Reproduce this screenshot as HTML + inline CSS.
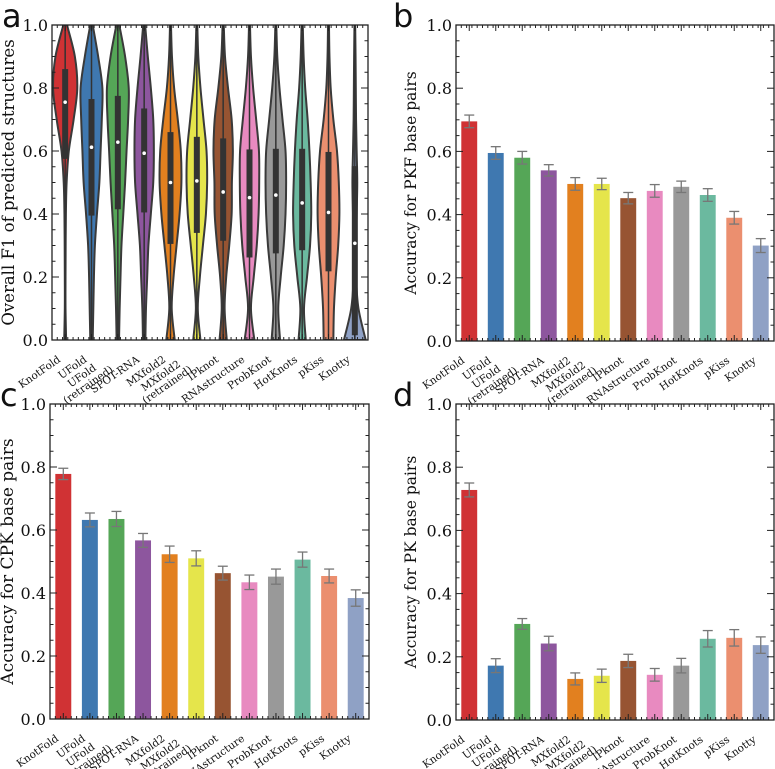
<!DOCTYPE html>
<html><head><meta charset="utf-8"><style>
body{margin:0;background:#fff;}
svg{display:block;}
text{font-family:"DejaVu Serif","Liberation Serif",serif;fill:#111;}
.plab{font-family:"DejaVu Sans","Liberation Sans",sans-serif;font-size:32px;}
</style></head><body>
<svg id="fig" width="775" height="769" viewBox="0 0 775 769"></svg>
<script>
const categories=["KnotFold","UFold","UFold\n(retrained)","SPOT-RNA","MXfold2","MXfold2\n(retrained)","IPknot","RNAstructure","ProbKnot","HotKnots","pKiss","Knotty"];
const colors=["#d03234","#3f78b0","#55a657","#8d569e","#e2801f","#e5e54b","#975432","#e88ac0","#999999","#6bb99f","#eb8f6f","#8fa1c5"];
const yTicks=["0.0","0.2","0.4","0.6","0.8","1.0"];
const pkfValues=[0.695,0.595,0.580,0.540,0.497,0.497,0.452,0.475,0.488,0.462,0.390,0.302];
const pkfErr=[0.020,0.020,0.020,0.018,0.020,0.018,0.018,0.020,0.018,0.020,0.020,0.022];
const cpkValues=[0.778,0.632,0.635,0.567,0.523,0.510,0.463,0.434,0.452,0.506,0.454,0.384];
const cpkErr=[0.018,0.022,0.024,0.022,0.026,0.024,0.022,0.023,0.024,0.024,0.022,0.026];
const pkValues=[0.728,0.172,0.304,0.242,0.130,0.140,0.187,0.143,0.172,0.257,0.260,0.237];
const pkErr=[0.022,0.022,0.017,0.023,0.019,0.021,0.021,0.020,0.023,0.026,0.026,0.026];
const f1Median=[0.755,0.612,0.628,0.593,0.500,0.505,0.470,0.452,0.460,0.435,0.405,0.307];
const f1Q1=[0.575,0.395,0.415,0.405,0.305,0.340,0.315,0.262,0.275,0.285,0.218,0.015];
const f1Q3=[0.860,0.765,0.775,0.735,0.660,0.645,0.640,0.605,0.607,0.607,0.597,0.552];
const f1DensityLevels=[0,0.1,0.2,0.3,0.4,0.5,0.6,0.7,0.8,0.9,1.0];
const f1Density=[
[0.08,0.03,0.03,0.04,0.06,0.12,0.30,0.70,1.00,0.80,0.15],
[0.10,0.15,0.20,0.28,0.45,0.65,0.75,0.85,0.90,0.55,0.10],
[0.10,0.15,0.22,0.30,0.45,0.60,0.72,0.85,0.90,0.60,0.12],
[0.10,0.15,0.25,0.35,0.55,0.75,0.80,0.75,0.55,0.30,0.08],
[0.35,0.10,0.25,0.50,0.75,0.90,0.85,0.60,0.30,0.12,0.04],
[0.30,0.08,0.25,0.50,0.75,0.85,0.80,0.55,0.30,0.12,0.04],
[0.30,0.12,0.25,0.50,0.70,0.72,0.80,0.70,0.40,0.15,0.05],
[0.40,0.12,0.35,0.60,0.75,0.80,0.78,0.55,0.30,0.12,0.04],
[0.35,0.20,0.40,0.65,0.80,0.85,0.80,0.55,0.30,0.12,0.04],
[0.30,0.15,0.40,0.65,0.75,0.70,0.60,0.45,0.25,0.12,0.05],
[0.40,0.45,0.60,0.80,0.90,0.85,0.70,0.40,0.18,0.08,0.04],
[0.90,0.30,0.10,0.10,0.15,0.20,0.15,0.10,0.08,0.06,0.03]];

const NS="http://www.w3.org/2000/svg";
const svg=document.getElementById('fig');
function mk(tag,attrs,parent){const e=document.createElementNS(NS,tag);for(const k in attrs)e.setAttribute(k,attrs[k]);(parent||svg).appendChild(e);return e;}

function panel(id,L,R,T,B,letter,ylabel,ylabSize,ylabX,letterX){
  const g=mk('g',{});
  
  
  const n=categories.length;
  const sx=i=>L+(i+0.5)*(R-L)/n;
  const sy=v=>B-v*(B-T);
  const slot=(R-L)/n;
  const clipId='clip'+id;
  const cp=mk('clipPath',{id:clipId},g);mk('rect',{x:L,y:T,width:R-L,height:B-T},cp);
  const plot=mk('g',{'clip-path':'url(#'+clipId+')'},g);
  const tk=mk('g',{stroke:'#222','stroke-width':1},g);
  
  
  for(let k=0;k<=20;k++){const y=sy(k*0.05);const len=k%4===0?7:3.5;
    mk('line',{x1:L,x2:L+len,y1:y,y2:y},tk);mk('line',{x1:R,x2:R-len,y1:y,y2:y},tk);}
  for(let k=0;k<=n*5;k++){const x=L+k*slot/5;
    mk('line',{x1:x,x2:x,y1:B,y2:B-3},tk);mk('line',{x1:x,x2:x,y1:T,y2:T+3},tk);}
  for(let i=0;i<n;i++){const x=sx(i);mk('line',{x1:x,x2:x,y1:B,y2:B-6},tk);mk('line',{x1:x,x2:x,y1:T,y2:T+6},tk);}
  yTicks.forEach((t,k)=>{const tx=mk('text',{x:L-4,y:sy(k*0.2)+6,'text-anchor':'end','font-size':16},g);tx.textContent=t;
    
    });
  categories.forEach((c,i)=>{
    const lines=c.split('\n');
    const multi=lines.length>1;
    const x=sx(i)-4,y=B+(multi?31:21);
    const tx=mk('g',{transform:`translate(${x},${y}) rotate(-35)`},g);
    
    
    if(!multi){const t=mk('text',{x:0,y:0,'text-anchor':'end','font-size':10.5},tx);t.textContent=lines[0];}
    else{
      const t2=mk('text',{x:0,y:0,'text-anchor':'end','font-size':10.5},tx);t2.textContent=lines[1];
      const w2=t2.getComputedTextLength();
      const t1=mk('text',{x:-w2/2,y:-11,'text-anchor':'middle','font-size':10.5},tx);t1.textContent=lines[0];
    }
  });
  const yl=mk('text',{transform:`translate(${ylabX},${(T+B)/2}) rotate(-90)`,'text-anchor':'middle','font-size':ylabSize},g);
  yl.textContent=ylabel;
  
  
  const pl=mk('text',{x:letterX,y:T+2,'class':'plab'},g);
  pl.textContent=letter;
  
  
  return {g,plot,sx,sy,slot,L,R,T,B};
}
function frame(p){const f=mk('rect',{x:p.L,y:p.T,width:p.R-p.L,height:p.B-p.T,fill:'none',stroke:'#222','stroke-width':1.3},p.g);
  
  }

function bars(p,vals,errs){
  vals.forEach((v,i)=>{const w=p.slot*0.6;
    const r=mk('rect',{x:p.sx(i)-w/2,y:p.sy(v),width:w,height:p.sy(0)-p.sy(v),fill:colors[i]},p.plot);
    
    
    const e=mk('g',{stroke:'#777','stroke-width':1.3},p.plot);
    
    
    const x=p.sx(i),y1=p.sy(v-errs[i]),y2=p.sy(v+errs[i]);
    mk('line',{x1:x,x2:x,y1:y1,y2:y2},e);
    mk('line',{x1:x-5,x2:x+5,y1:y1,y2:y1},e);
    mk('line',{x1:x-5,x2:x+5,y1:y2,y2:y2},e);
  });
  frame(p);
}

function catmull(pts){let d=`M${pts[0][0]},${pts[0][1]}`;
  for(let i=0;i<pts.length-1;i++){const p0=pts[i-1]||pts[i],p1=pts[i],p2=pts[i+1],p3=pts[i+2]||p2;
    d+=` C${p1[0]+(p2[0]-p0[0])/6},${p1[1]+(p2[1]-p0[1])/6} ${p2[0]-(p3[0]-p1[0])/6},${p2[1]-(p3[1]-p1[1])/6} ${p2[0]},${p2[1]}`;}
  return d;}

const pa=panel('a',52,368,25,340,'a','Overall F1 of predicted structures',16.5,14,2);
f1Density.forEach((dens,i)=>{
  const x=pa.sx(i),maxW=pa.slot*0.46;
  const right=f1DensityLevels.map((lv,k)=>[x+dens[k]*maxW,pa.sy(lv)]);
  const left=f1DensityLevels.map((lv,k)=>[x-dens[k]*maxW,pa.sy(lv)]).reverse();
  let d=catmull(right);
  const ld=catmull(left);d+=' L'+ld.slice(1)+' Z';
  const v=mk('path',{d:d,fill:colors[i],stroke:'#3a3a3a','stroke-width':2},pa.plot);
  
  
  mk('line',{x1:x,x2:x,y1:pa.sy(0),y2:pa.sy(1),stroke:'#333','stroke-width':1.5},pa.plot);
  const b=mk('rect',{x:x-3,y:pa.sy(f1Q3[i]),width:6,height:pa.sy(f1Q1[i])-pa.sy(f1Q3[i]),fill:'#333'},pa.plot);
  
  
  const m=mk('circle',{cx:x,cy:pa.sy(f1Median[i]),r:1.8,fill:'#fff'},pa.plot);
  
  
});
frame(pa);

const pb=panel('b',456,774,25,341,'b','Accuracy for PKF base pairs',15.5,416,393);
bars(pb,pkfValues,pkfErr);
const pc=panel('c',50,369,404,719,'c','Accuracy for CPK base pairs',17,13,0);
bars(pc,cpkValues,cpkErr);
const pd=panel('d',456,774,404,720,'d','Accuracy for PK base pairs',15.5,416,393);
bars(pd,pkValues,pkErr);
</script>
</body></html>
